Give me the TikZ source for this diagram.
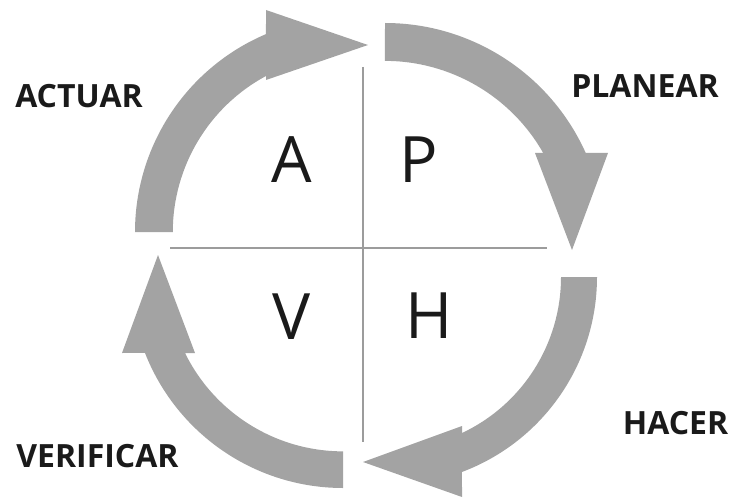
\documentclass[tikz,border=0pt]{standalone}
\usepackage{fontspec}
\setmainfont{Open Sans}
\usepackage{xcolor}
\usepackage{tikz}
\usetikzlibrary{positioning}
\definecolor{flechagris}{HTML}{A3A3A3}
\definecolor{lineagris}{HTML}{9C9C9C}
\definecolor{textonegro}{HTML}{1A1A1A}

\begin{document}
\begin{tikzpicture}[
x=0.75pt,y=-0.75pt,
flecha/.style={fill=flechagris},
cruz/.style={draw=lineagris,line width=2pt},
etapa/.style={font=\bfseries\fontsize{24}{28}\selectfont,text=textonegro,inner sep=0pt},
letra/.style={font=\fontsize{48}{52}\selectfont,text=textonegro,inner sep=0pt}
]
\useasboundingbox (0,0) rectangle (731,499);
% cuadrantes
\coordinate (arriba) at (363,67);
\coordinate (abajo) at (363,442);
\coordinate (izq) at (170,248);
\coordinate (der) at (547,248);
\draw[cruz] (arriba)--(abajo);
\draw[cruz] (izq)--(der);
\node[letra] (a) at (292,160) {A};
\node[letra] (p) at (419,160) {P};
\node[letra] (v) at (292,317) {V};
\node[letra] (h) at (429,316) {H};
% flechas del ciclo
\fill[flecha] (135,232) arc[start angle=180,end angle=247,radius=215]
  -- (266,10) -- (368,45) -- (266,80) -- (266,76)
  arc[start angle=241.7,end angle=180,radius=177.2] -- cycle;
\fill[flecha] (385,23) arc[start angle=270,end angle=335.8,radius=220]
  -- (608,153) -- (572,250) -- (535,153) -- (543.2,153)
  arc[start angle=330.4,end angle=270,radius=182] -- cycle;
\fill[flecha] (597,277) arc[start angle=0,end angle=69.4,radius=208.3]
  -- (462,497) -- (363,462) -- (462,426) -- (462,433)
  arc[start angle=64.8,end angle=0,radius=172.4] -- cycle;
\fill[flecha] (343,488) arc[start angle=90,end angle=158.6,radius=212.7]
  -- (122,353) -- (158,255) -- (195,353) -- (185,353)
  arc[start angle=153.8,end angle=90,radius=176.1] -- cycle;
% etiquetas
\node[etapa] (actuar) at (79,96.5) {ACTUAR};
\node[etapa] (planear) at (645,86) {PLANEAR};
\node[etapa] (hacer) at (675.5,423.5) {HACER};
\node[etapa] (verificar) at (97.5,456) {VERIFICAR};
\end{tikzpicture}
\end{document}
